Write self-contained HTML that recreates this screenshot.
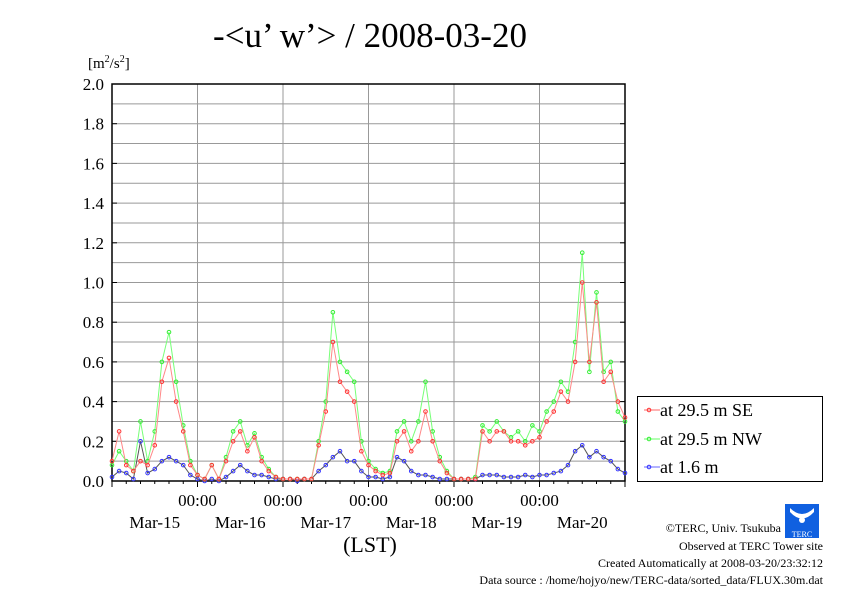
<!DOCTYPE html>
<html><head><meta charset="utf-8"><style>
body{margin:0;background:#fff;}
svg text{font-family:"Liberation Serif",serif;fill:#000;}
</style></head><body>
<svg width="842" height="595" viewBox="0 0 842 595" xmlns="http://www.w3.org/2000/svg">
<rect width="842" height="595" fill="#fff"/>
<text x="370" y="47" font-size="35" text-anchor="middle">-&lt;u’ w’&gt; / 2008-03-20</text>
<text x="88" y="68" font-size="15">[m<tspan font-size="10" dy="-6">2</tspan><tspan dy="6">/s</tspan><tspan font-size="10" dy="-6">2</tspan><tspan dy="6">]</tspan></text>
<g id="grid"></g>
<g id="axes"></g>
<g id="series"></g>
<rect x="637.5" y="396.5" width="185" height="85" fill="#fff" stroke="#000"/>
<g><line x1="644" y1="410" x2="660" y2="410" stroke="#f66"/><circle cx="649" cy="410" r="1.8" fill="none" stroke="#f33"/><text x="660" y="416" font-size="18">at 29.5 m SE</text></g>
<g><line x1="644" y1="439" x2="660" y2="439" stroke="#6f6"/><circle cx="649" cy="439" r="1.8" fill="none" stroke="#3e3"/><text x="660" y="445" font-size="18">at 29.5 m NW</text></g>
<g><line x1="644" y1="467" x2="660" y2="467" stroke="#66f"/><circle cx="649" cy="467" r="1.8" fill="none" stroke="#33f"/><text x="660" y="473" font-size="18">at 1.6 m</text></g>
<text x="370" y="552" font-size="22" text-anchor="middle">(LST)</text>
<g><rect x="785" y="504" width="34" height="34" fill="#1060e0"/><path d="M790 512 Q802 525 814 512 L814 508 Q802 520 790 508Z" fill="#fff"/><circle cx="802" cy="520" r="3" fill="#fff"/><text x="802" y="537" font-size="8" text-anchor="middle" style="fill:#fff" font-family="Liberation Sans">TERC</text></g>
<text x="781" y="532" font-size="12" text-anchor="end">©TERC, Univ. Tsukuba</text>
<text x="823" y="550" font-size="12" text-anchor="end">Observed at TERC Tower site</text>
<text x="823" y="567" font-size="12" text-anchor="end">Created Automatically at 2008-03-20/23:32:12</text>
<text x="823" y="584" font-size="12" text-anchor="end">Data source : /home/hojyo/new/TERC-data/sorted_data/FLUX.30m.dat</text>
</svg>
<script>
const dayLabels=["Mar-15","Mar-16","Mar-17","Mar-18","Mar-19","Mar-20"];
const yTicks=[0,0.2,0.4,0.6,0.8,1.0,1.2,1.4,1.6,1.8,2.0];
const seVals=[0.1,0.25,0.08,0.05,0.1,0.08,0.18,0.5,0.62,0.4,0.25,0.08,0.03,
0.01,0.08,0.01,0.1,0.2,0.25,0.15,0.22,0.1,0.05,0.02,0.01,
0.01,0.01,0.01,0.01,0.18,0.35,0.7,0.5,0.45,0.4,0.15,0.08,
0.05,0.03,0.04,0.2,0.25,0.15,0.2,0.35,0.2,0.1,0.04,0.01,
0.01,0.01,0.01,0.25,0.2,0.25,0.25,0.2,0.2,0.18,0.2,0.22,
0.3,0.35,0.45,0.4,0.6,1.0,0.6,0.9,0.5,0.55,0.4,0.32];
const nwVals=[0.08,0.15,0.1,0.05,0.3,0.1,0.25,0.6,0.75,0.5,0.28,0.1,0.03,
0.01,0.08,0.01,0.12,0.25,0.3,0.18,0.24,0.12,0.06,0.02,0.01,
0.01,0.01,0.01,0.01,0.2,0.4,0.85,0.6,0.55,0.5,0.2,0.1,
0.06,0.04,0.05,0.25,0.3,0.2,0.3,0.5,0.25,0.12,0.05,0.01,
0.01,0.01,0.02,0.28,0.25,0.3,0.25,0.22,0.25,0.2,0.28,0.25,
0.35,0.4,0.5,0.45,0.7,1.15,0.55,0.95,0.55,0.6,0.35,0.3];
const lowVals=[0.02,0.05,0.04,0.01,0.2,0.04,0.06,0.1,0.12,0.1,0.08,0.03,0.01,
0,0.01,0,0.02,0.05,0.08,0.05,0.03,0.03,0.02,0.01,0.01,
0.01,0,0.01,0.01,0.05,0.08,0.12,0.15,0.1,0.1,0.05,0.02,
0.02,0.01,0.02,0.12,0.1,0.05,0.03,0.03,0.02,0.01,0.01,0.01,
0.01,0.01,0.01,0.03,0.03,0.03,0.02,0.02,0.02,0.03,0.02,0.03,
0.03,0.04,0.05,0.08,0.15,0.18,0.12,0.15,0.12,0.1,0.06,0.04];
const X0=112,X1=625,Y0=481,Y1=84,HOURS=144;
const NS="http://www.w3.org/2000/svg";
const xs=h=>X0+(X1-X0)*h/HOURS;
const ys=v=>Y0-(Y0-Y1)*v/2;
function mk(t,a,p){const e=document.createElementNS(NS,t);for(const k in a)e.setAttribute(k,a[k]);p.appendChild(e);return e;}
const grid=document.getElementById('grid'),axes=document.getElementById('axes'),ser=document.getElementById('series');
for(let i=1;i<20;i++){const l=mk('line',{x1:X0,x2:X1,y1:ys(i*0.1),y2:ys(i*0.1),stroke:'#999','stroke-width':1},grid);

}
for(let d=1;d<6;d++){const l=mk('line',{x1:xs(d*24),x2:xs(d*24),y1:Y1,y2:Y0,stroke:'#999','stroke-width':1},grid);

}
const fr=mk('rect',{x:X0,y:Y1,width:X1-X0,height:Y0-Y1,fill:'none',stroke:'#000','stroke-width':1.5},axes);


yTicks.forEach(v=>{const t=mk('text',{x:X0-8,y:ys(v)+6,'font-size':17,'text-anchor':'end'},axes);t.textContent=v.toFixed(1);


mk('line',{x1:X0,x2:X0+5,y1:ys(v),y2:ys(v),stroke:'#000'},axes);mk('line',{x1:X1,x2:X1-5,y1:ys(v),y2:ys(v),stroke:'#000'},axes);});
for(let h=0;h<=HOURS;h+=4){const big=h%24==0;mk('line',{x1:xs(h),x2:xs(h),y1:Y0,y2:Y0+(big?6:3),stroke:'#000'},axes);}
dayLabels.forEach((d,i)=>{
if(i<5){const a=mk('text',{x:xs((i+1)*24),y:506,'font-size':17,'text-anchor':'middle'},axes);a.textContent='00:00';

}
const b=mk('text',{x:xs(i*24+12),y:528,'font-size':17,'text-anchor':'middle'},axes);b.textContent=d;

});
function draw(vals,line,mark,name){const g=mk('g',{},ser);


const step=HOURS/(vals.length-1);
mk('polyline',{points:vals.map((v,i)=>xs(i*step)+','+ys(v)).join(' '),fill:'none',stroke:line,'stroke-width':1},g);
vals.forEach((v,i)=>{const c=mk('circle',{cx:xs(i*step),cy:ys(v),r:1.8,fill:'none',stroke:mark,'stroke-width':1},g);

});}
draw(lowVals,'#555','#33f','series-1-6m');
draw(nwVals,'#7f7','#3e3','series-29-5m-nw');
draw(seVals,'#f88','#f33','series-29-5m-se');
</script>
</body></html>
